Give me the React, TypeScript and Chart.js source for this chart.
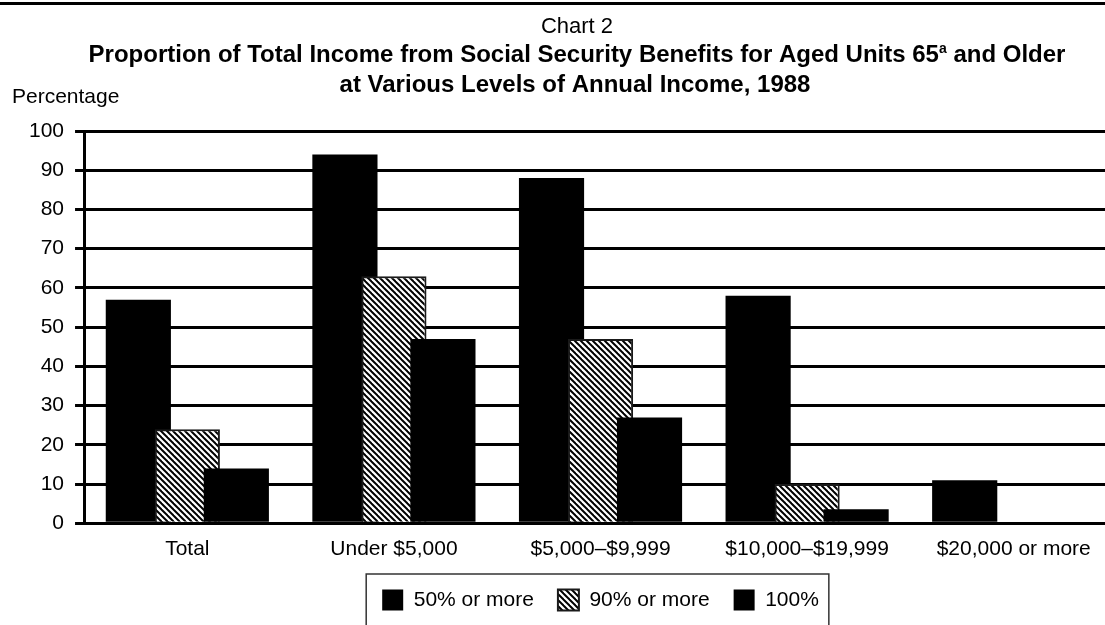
import React, { useEffect, useRef } from "react";
import { Chart, registerables } from "chart.js";

Chart.register(...registerables);

// ---- data ----
const categories = [
  "Total",
  "Under $5,000",
  "$5,000–$9,999",
  "$10,000–$19,999",
  "$20,000 or more",
];
const seriesNames = ["50% or more", "90% or more", "100%"];
const fiftyOrMore = [57, 94, 88, 58, 11];
const ninetyOrMore: (number | null)[] = [24, 63, 47, 10, null];
const hundredPercent: (number | null)[] = [14, 47, 27, 3.6, null];

const yMin = 0;
const yMax = 100;
const yStep = 10;

// ---- text ----
const chartNumber = "Chart 2";
const titleMain = "Proportion of Total Income from Social Security Benefits for Aged Units 65";
const titleSup = "a";
const titleTail = " and Older";
const titleSecond = "at Various Levels of Annual Income, 1988";
const yAxisCaption = "Percentage";

const FONT = "'Liberation Sans', Arial, Helvetica, sans-serif";

function makeHatch(): CanvasPattern | string {
  const size = 6;
  const c = document.createElement("canvas");
  c.width = size;
  c.height = size;
  const g = c.getContext("2d");
  if (!g) return "#888";
  g.fillStyle = "#fff";
  g.fillRect(0, 0, size, size);
  g.strokeStyle = "#000";
  g.lineWidth = 2;
  for (const k of [-size, 0, size]) {
    g.beginPath();
    g.moveTo(k - 1, -1);
    g.lineTo(k + size + 1, size + 1);
    g.stroke();
  }
  return g.createPattern(c, "repeat") || "#888";
}

// Heading block: rule, chart number, bold two-line title, axis caption.
const headerPlugin = {
  id: "header",
  afterDraw(chart: any) {
    const ctx: CanvasRenderingContext2D = chart.ctx;
    const cx = 577;
    ctx.save();
    ctx.fillStyle = "#000";
    ctx.fillRect(0, 2, chart.width, 3);
    ctx.textAlign = "left";
    ctx.textBaseline = "alphabetic";

    ctx.font = `22px ${FONT}`;
    const wn = ctx.measureText(chartNumber).width;
    ctx.fillText(chartNumber, cx - wn / 2, 33);

    const boldFont = `bold 24px ${FONT}`;
    const supFont = `bold 14px ${FONT}`;
    ctx.font = boldFont;
    const w1 = ctx.measureText(titleMain).width;
    const w3 = ctx.measureText(titleTail).width;
    ctx.font = supFont;
    const w2 = ctx.measureText(titleSup).width;
    let x = cx - (w1 + w2 + w3) / 2;
    ctx.font = boldFont;
    ctx.fillText(titleMain, x, 62);
    x += w1;
    ctx.font = supFont;
    ctx.fillText(titleSup, x, 53);
    x += w2;
    ctx.font = boldFont;
    ctx.fillText(titleTail, x, 62);

    const ws = ctx.measureText(titleSecond).width;
    ctx.fillText(titleSecond, cx - 2 - ws / 2, 92);

    ctx.font = `21px ${FONT}`;
    ctx.fillText(yAxisCaption, 12, 103);
    ctx.restore();
  },
};

// Frame around the legend items.
const legendFramePlugin = {
  id: "legendFrame",
  afterDraw(chart: any) {
    const boxes = chart.legend?.legendHitBoxes;
    if (!boxes || !boxes.length) return;
    const ctx: CanvasRenderingContext2D = chart.ctx;
    const left = Math.min(...boxes.map((b: any) => b.left)) - 16;
    const right = Math.max(...boxes.map((b: any) => b.left + b.width)) + 10;
    const mid = boxes[0].top + boxes[0].height / 2;
    const top = mid - 26;
    ctx.save();
    ctx.strokeStyle = "#333";
    ctx.lineWidth = 1.5;
    ctx.strokeRect(left, top, right - left, chart.height - top + 20);
    ctx.restore();
  },
};

// Paint datasets left to right so each later bar sits over the one before it.
const drawOrderPlugin = {
  id: "drawOrder",
  beforeDatasetsDraw(chart: any) {
    const metas = chart.getSortedVisibleDatasetMetas();
    for (const meta of metas) meta.controller.draw();
    return false;
  },
};

export default function App() {
  const canvasRef = useRef<HTMLCanvasElement | null>(null);

  useEffect(() => {
    if (!canvasRef.current) return;
    const hatch = makeHatch();
    const chart = new Chart(canvasRef.current, {
      type: "bar",
      data: {
        labels: categories,
        datasets: [
          {
            label: seriesNames[0],
            data: fiftyOrMore,
            backgroundColor: "#000",
            borderWidth: 0,
          },
          {
            label: seriesNames[1],
            data: ninetyOrMore,
            backgroundColor: hatch as any,
            borderColor: "#1a1a1a",
            borderWidth: 2,
          },
          {
            label: seriesNames[2],
            data: hundredPercent,
            backgroundColor: "#000",
            borderWidth: 0,
          },
        ],
      },
      options: {
        animation: false,
        responsive: true,
        maintainAspectRatio: false,
        events: [],
        datasets: {
          bar: {
            categoryPercentage: 0.7115,
            barPercentage: 1.33,
          },
        },
        layout: {
          padding: { top: 131, left: 18, right: 8, bottom: 4.5 },
        },
        scales: {
          x: {
            grid: { display: false, drawTicks: false },
            border: { display: true, color: "#000", width: 3 },
            ticks: {
              color: "#000",
              font: { size: 21, family: FONT },
              padding: 13,
              maxRotation: 0,
              autoSkip: false,
            },
            afterFit(scale: any) {
              scale.height -= 9;
            },
          },
          y: {
            min: yMin,
            max: yMax,
            grid: { color: "#000", lineWidth: 3, tickLength: 9, drawTicks: true },
            border: { display: true, color: "#000", width: 3 },
            ticks: {
              stepSize: yStep,
              color: "#000",
              font: { size: 21, family: FONT },
              padding: 11,
            },
          },
        },
        plugins: {
          title: { display: false },
          tooltip: { enabled: false },
          legend: {
            display: true,
            position: "bottom",
            fullSize: false,
            labels: {
              color: "#000",
              font: { size: 21, family: FONT },
              boxWidth: 21,
              boxHeight: 21,
              padding: 24,
            },
          },
        },
      },
      plugins: [drawOrderPlugin, headerPlugin, legendFramePlugin],
    });
    return () => chart.destroy();
  }, []);

  return (
    <div
      style={{
        position: "absolute",
        left: 0,
        top: 0,
        width: 1105,
        height: 625,
        overflow: "hidden",
        background: "#fff",
      }}
    >
      <div style={{ position: "relative", width: 1125, height: 625 }}>
        <canvas ref={canvasRef} />
      </div>
    </div>
  );
}
